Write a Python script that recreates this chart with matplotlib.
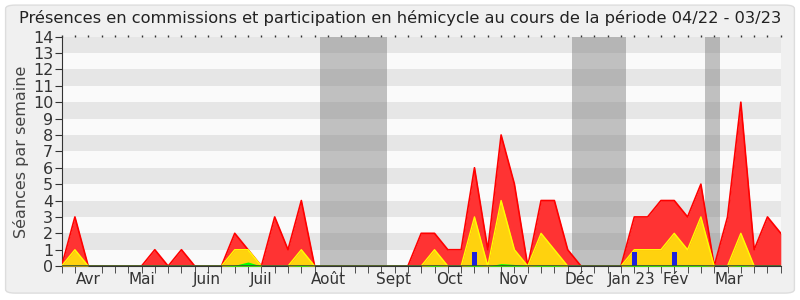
import numpy as np
import matplotlib.pyplot as plt
from matplotlib.patches import FancyBboxPatch

# weekly values (week 0 .. 54)
red = [0, 3, 0, 0, 0, 0, 0, 1, 0, 1, 0, 0, 0, 2, 1, 0, 3, 1, 4, 0,
       0, 0, 0, 0, 0, 0, 0, 2, 2, 1, 1, 6, 1, 8, 5, 0, 4, 4, 1, 0,
       0, 0, 0, 3, 3, 4, 4, 3, 5, 0, 3, 10, 1, 3, 2]
yellow = [0, 1, 0, 0, 0, 0, 0, 0, 0, 0, 0, 0, 0, 1, 1, 0, 0, 0, 1, 0,
          0, 0, 0, 0, 0, 0, 0, 0, 1, 0, 0, 3, 0, 4, 1, 0, 2, 1, 0, 0,
          0, 0, 0, 1, 1, 1, 2, 1, 3, 0, 0, 2, 0, 0, 0]
green = [0, 0, 0, 0, 0, 0, 0, 0, 0, 0, 0, 0, 0, 0.05, 0.25, 0, 0, 0, 0.05, 0,
         0, 0, 0, 0, 0, 0, 0, 0, 0.05, 0, 0, 0.05, 0, 0.15, 0.1, 0, 0.05, 0.05, 0, 0,
         0, 0, 0, 0.05, 0.05, 0.05, 0.05, 0.05, 0.05, 0, 0, 0.05, 0, 0, 0]
blue_weeks = [31, 43, 46]
blue_vals = [0.85, 0.85, 0.85]

vacances = [(19.4, 24.45), (38.35, 42.37), (48.3, 49.45)]

mois = ['Avr', 'Mai', 'Juin', 'Juil', 'Août', 'Sept', 'Oct', 'Nov', 'Déc', 'Jan 23', 'Fév', 'Mar']
mois_pos = [2, 6.05, 10.9, 14.95, 20, 24.9, 29.1, 33.9, 38.9, 42.8, 46.1, 50.1]

weeks = np.arange(len(red))

fig = plt.figure(figsize=(8, 3), dpi=100)
fig.patch.set_facecolor('white')
fond = FancyBboxPatch((0.007, 0.023), 0.986, 0.96, boxstyle='round,pad=0,rounding_size=0.012',
                      transform=fig.transFigure, facecolor='#f0f0f0', edgecolor='#dddddd', lw=1, zorder=-10)
fig.patches.append(fond)
ax = fig.add_axes([0.077, 0.113, 0.899, 0.765])
ax.set_facecolor('#fafafa')

# alternating bands
for k in range(1, 14, 2):
    ax.axhspan(k, k + 1, color='#e6e6e6', lw=0, zorder=0)

for a, b in vacances:
    ax.axvspan(a, b, color='#7a7a7a', alpha=0.45, lw=0, zorder=1)

ax.fill_between(weeks, red, color='#ff3333', lw=0, zorder=2)
ax.plot(weeks, red, color='#ff0000', lw=1.2, zorder=3)
ax.fill_between(weeks, yellow, color='#ffd20e', lw=0, zorder=4)
ax.plot(weeks, yellow, color='#ffff00', lw=1, zorder=5)
ax.fill_between(weeks, green, color='#00ff00', lw=0, zorder=6)
ax.bar(blue_weeks, blue_vals, width=0.35, color='#2020dd', zorder=7)
ax.axhline(0, color='#335533', lw=1.2, zorder=8)

ax.set_xlim(0, 54)
ax.set_ylim(0, 14)
ax.set_yticks(range(15))
ax.set_xticks(mois_pos)
ax.set_xticklabels(mois)
ax.set_xticks(weeks, minor=True)
ax.tick_params(axis='x', which='major', length=0, labelsize=11, colors='#333333', pad=4)
ax.tick_params(axis='x', which='minor', length=5, color='#333333', direction='out')
ax.tick_params(axis='y', labelsize=11.5, colors='#333333', length=5, pad=1)

# tiny dots along the top edge
top = ax.secondary_xaxis('top')
top.set_xticks(weeks)
top.tick_params(length=1.5, width=1, color='#333333', labeltop=False)
top.spines['top'].set_visible(False)

for s in ['right', 'top']:
    ax.spines[s].set_visible(False)
ax.spines['left'].set_color('#333333')
ax.spines['bottom'].set_color('#333333')

ax.set_ylabel('Séances par semaine', fontsize=11.5, color='#444444', labelpad=3)
fig.suptitle('Présences en commissions et participation en hémicycle au cours de la période 04/22 - 03/23',
             fontsize=11.7, color='#222222', y=0.965)

fig.savefig('out.png', dpi=100, facecolor=fig.get_facecolor())
